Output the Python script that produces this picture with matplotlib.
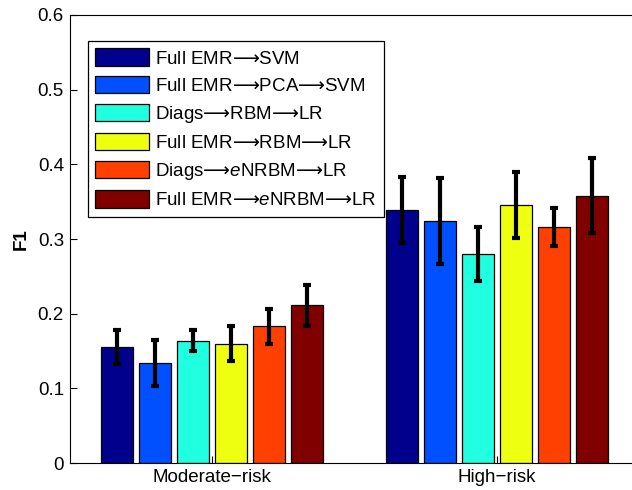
import matplotlib
matplotlib.use("Agg")
import matplotlib.pyplot as plt
import numpy as np

plt.rcParams["font.family"] = ["Liberation Sans", "DejaVu Sans"]
plt.rcParams["mathtext.fontset"] = "custom"
plt.rcParams["mathtext.rm"] = "Liberation Sans"
plt.rcParams["mathtext.it"] = "Liberation Sans:italic"
plt.rcParams["mathtext.sf"] = "DejaVu Sans"

arr = "$\\mathsf{\u27f6}$"
groups = ["Moderate\u2212risk", "High\u2212risk"]
methods = [
    f"Full EMR{arr}SVM",
    f"Full EMR{arr}PCA{arr}SVM",
    f"Diags{arr}RBM{arr}LR",
    f"Full EMR{arr}RBM{arr}LR",
    f"Diags{arr}$\\it{{e}}$NRBM{arr}LR",
    f"Full EMR{arr}$\\it{{e}}$NRBM{arr}LR",
]
colors = ["#00008C", "#0050FF", "#20FFDF", "#EFFF10", "#FF4000", "#800000"]

# F1 per method, [moderate, high]
f1_mean = [
    [0.155, 0.339],
    [0.134, 0.324],
    [0.164, 0.280],
    [0.160, 0.346],
    [0.183, 0.316],
    [0.211, 0.358],
]
f1_err = [
    [0.023, 0.044],
    [0.031, 0.058],
    [0.014, 0.036],
    [0.024, 0.044],
    [0.023, 0.026],
    [0.028, 0.050],
]

fig = plt.figure(figsize=(6.32, 4.9), dpi=100)
ax = fig.add_axes([69.5 / 632, 27 / 490, 570 / 632, 448 / 490])

x = np.arange(1, len(groups) + 1)
n = len(methods)
step = 0.1333
width = 0.109
for i in range(n):
    pos = x + (i - (n - 1) / 2) * step
    ax.bar(pos, [f1_mean[i][0], f1_mean[i][1]], width=width, color=colors[i],
           edgecolor="black", linewidth=0.9, label=methods[i])
    ax.errorbar(pos, [f1_mean[i][0], f1_mean[i][1]],
                yerr=[f1_err[i][0], f1_err[i][1]], fmt="none",
                ecolor="black", elinewidth=3, capsize=3, capthick=3)

ax.set_xlim(0.5, 2.5)
ax.set_ylim(0, 0.6)
ax.set_xticks(x)
ax.set_xticklabels(groups)
ax.set_yticks(np.arange(0, 0.61, 0.1))
ax.set_yticklabels(["0", "0.1", "0.2", "0.3", "0.4", "0.5", "0.6"])
ax.tick_params(direction="in", length=5, labelsize=13.5, width=0.8, pad=4)
ax.set_ylabel("F1", fontsize=13.5, fontweight="bold", labelpad=6)
for s in ax.spines.values():
    s.set_linewidth(0.8)

leg = ax.legend(loc="upper left", bbox_to_anchor=(0.032, 0.942), borderaxespad=0,
                fontsize=13.5, handlelength=2.85, handleheight=1.05,
                labelspacing=0.45, handletextpad=0.32, borderpad=0.4,
                fancybox=False, edgecolor="black", framealpha=1)
leg.get_frame().set_linewidth(0.9)

fig.savefig("out.png", dpi=100)
